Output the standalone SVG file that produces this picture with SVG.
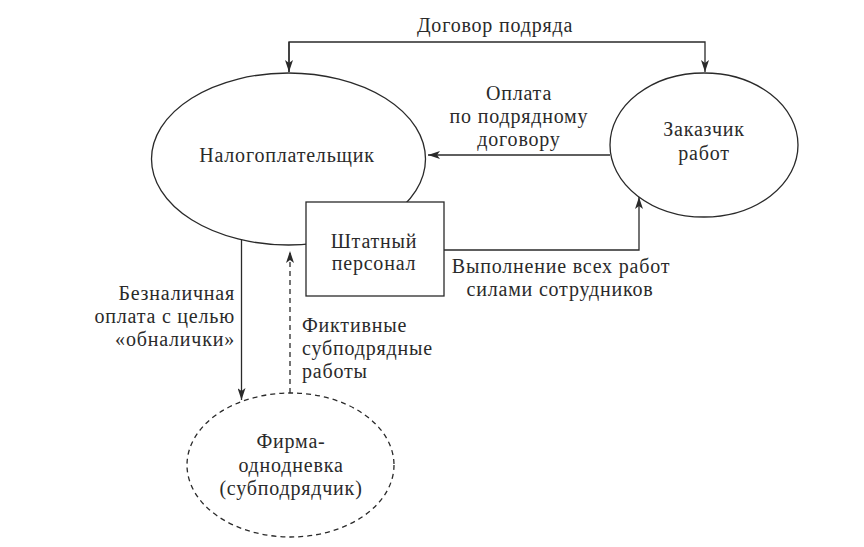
<svg xmlns="http://www.w3.org/2000/svg" width="864" height="547" viewBox="0 0 864 547">
<style>
.n{fill:none;stroke:#2a2a2a;stroke-width:1.3}
.d{fill:none;stroke:#2a2a2a;stroke-width:1.3;stroke-dasharray:5,4}
.c{fill:none;stroke:#2a2a2a;stroke-width:1.3}
text{font-family:"Liberation Serif","DejaVu Serif",serif;font-size:20px;letter-spacing:0.8px;fill:#2a2a2a}
.m{text-anchor:middle}
.e{text-anchor:end}
</style>
<defs>
<marker id="a" viewBox="0 0 12 8" refX="12" refY="4" markerWidth="12" markerHeight="8" markerUnits="userSpaceOnUse" orient="auto">
<path d="M0,0 L12,4 L0,8 L3,4 z" fill="#2a2a2a"/>
</marker>
</defs>
<rect width="864" height="547" fill="#fff"/>
<g id="nalog">
<ellipse class="n" cx="288.5" cy="159" rx="137" ry="86"/>
<text class="m" x="287" y="162">Налогоплательщик</text>
</g>
<g id="zakazchik">
<ellipse class="n" cx="704" cy="145" rx="94" ry="72"/>
<text class="m" x="704" y="136">Заказчик</text>
<text class="m" x="704" y="160">работ</text>
</g>
<g id="personal">
<rect x="306" y="202" width="138" height="94" fill="#fff" stroke="#2a2a2a" stroke-width="1.3"/>
<text class="m" x="374" y="248">Штатный</text>
<text class="m" x="374" y="270">персонал</text>
</g>
<g id="firma">
<ellipse class="d" cx="290.5" cy="465" rx="103.5" ry="72"/>
<text class="m" x="291" y="448">Фирма-</text>
<text class="m" x="291" y="472">однодневка</text>
<text class="m" x="291" y="495">(субподрядчик)</text>
</g>
<g id="connectors">
<path class="c" d="M289,72 V42 H705 V72" marker-end="url(#a)"/>
<path class="c" d="M289,42 V72" marker-end="url(#a)"/>
<path class="c" d="M610,155 H428" marker-end="url(#a)"/>
<path class="c" d="M444,250 H639 V197" marker-end="url(#a)"/>
<path class="c" d="M241.5,240 V400" marker-end="url(#a)"/>
<path class="d" d="M290,393 V251" marker-end="url(#a)"/>
<text class="m" x="495" y="32">Договор подряда</text>
<text class="m" x="519" y="100">Оплата</text>
<text class="m" x="519" y="123">по подрядному</text>
<text class="m" x="519" y="146">договору</text>
<text class="m" x="561" y="273">Выполнение всех работ</text>
<text class="m" x="560" y="296">силами сотрудников</text>
<text class="e" x="235" y="300">Безналичная</text>
<text class="e" x="235" y="323">оплата с целью</text>
<text class="e" x="235" y="346">«обналички»</text>
<text x="302" y="332">Фиктивные</text>
<text x="302" y="355">субподрядные</text>
<text x="302" y="378">работы</text>
</g>
</svg>
